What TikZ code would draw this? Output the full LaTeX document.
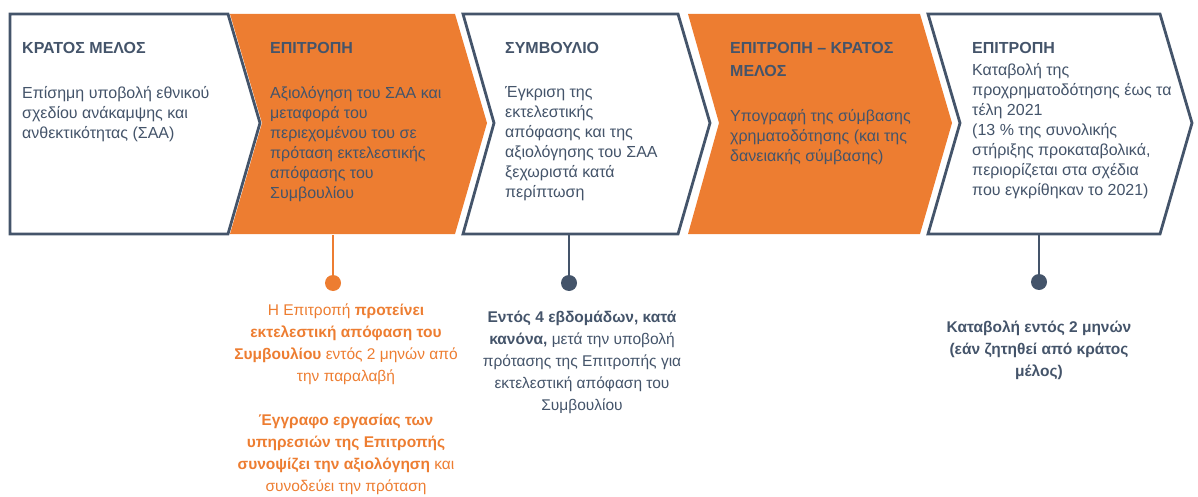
\documentclass[tikz,border=0pt]{standalone}
\usepackage{fontspec}
\setmainfont{Liberation Sans}
\usetikzlibrary{positioning}
\definecolor{slate}{HTML}{44546A}
\definecolor{accent}{HTML}{ED7D31}
\begin{document}
\begin{tikzpicture}
[x=1pt,y=-1pt,
  chevwhite/.style={draw=slate,line width=2.8pt,fill=white,line join=miter},%
  chevorange/.style={fill=accent},%
  headtext/.style={anchor=north west,align=left,inner sep=0pt,text=slate,
    font=\bfseries\fontsize{16}{23}\selectfont},%
  bodytext/.style={anchor=north west,align=left,inner sep=0pt,text=slate,
    font=\fontsize{16}{20}\selectfont},%
  notetext/.style={anchor=north,align=center,inner sep=0pt,
    font=\fontsize{15.5}{22}\selectfont},%
  dotdecorate/.style={shape=circle,inner sep=0pt,minimum size=16pt},%
  linedecorate/.style={-,line width=2.6pt}]
\useasboundingbox (0,0) rectangle (1198,497);
%% chevrons
\foreach \l/\r/\d/\kind in {10/228/0/chevwhite, 230/455/32/chevorange,
  463/678/31/chevwhite, 688/920/31/chevorange, 928/1160/32/chevwhite} {
  \path[\kind] (\l,14) -- (\r,14) -- (\r+32,123) -- (\r,234)
    -- (\l,234) -- (\l+\d,123) -- cycle;
}
%% headings and texts
\node (h1) at (22,42) [headtext] {ΚΡΑΤΟΣ ΜΕΛΟΣ};
\node (t1) [bodytext,below=33pt of h1.south west,anchor=north west]
  {Επίσημη υποβολή εθνικού\\σχεδίου ανάκαμψης και\\ανθεκτικότητας (ΣΑΑ)};
\node (h2) at (270,42) [headtext] {ΕΠΙΤΡΟΠΗ};
\node (t2) [bodytext,below=33pt of h2.south west,anchor=north west]
  {Αξιολόγηση του ΣΑΑ και\\μεταφορά του\\περιεχομένου του σε\\πρόταση εκτελεστικής\\απόφασης του\\Συμβουλίου};
\node (h3) at (505,42) [headtext] {ΣΥΜΒΟΥΛΙΟ};
\node (t3) [bodytext,below=33pt of h3.south west,anchor=north west]
  {Έγκριση της\\εκτελεστικής\\απόφασης και της\\αξιολόγησης του ΣΑΑ\\ξεχωριστά κατά\\περίπτωση};
\node (h4) at (730,42) [headtext] {ΕΠΙΤΡΟΠΗ – ΚΡΑΤΟΣ\\ΜΕΛΟΣ};
\node (t4) [bodytext,below=33pt of h4.south west,anchor=north west]
  {Υπογραφή της σύμβασης\\χρηματοδότησης (και της\\δανειακής σύμβασης)};
\node (h5) at (972,42) [headtext] {ΕΠΙΤΡΟΠΗ};
\node (t5) [bodytext,below=10pt of h5.south west,anchor=north west]
  {Καταβολή της\\προχρηματοδότησης έως τα\\τέλη 2021\\(13 \% της συνολικής\\στήριξης προκαταβολικά,\\περιορίζεται στα σχέδια\\που εγκρίθηκαν το 2021)};
%% connectors and dots
\coordinate (b2) at (333,235);
\coordinate (b3) at (569,234);
\coordinate (b5) at (1039,234);
\node (d2) at (333,283) [dotdecorate,fill=accent] {};
\node (d3) at (569,283) [dotdecorate,fill=slate] {};
\node (d5) at (1039,282) [dotdecorate,fill=slate] {};
\draw[linedecorate,accent] (b2) -- (d2);
\draw[linedecorate,slate] (b3) -- (d3);
\draw[linedecorate,slate] (b5) -- (d5);
%% notes under the chevrons
\node (n2) at (346,304) [notetext,text=accent]
  {Η Επιτροπή \textbf{προτείνει}\\\textbf{εκτελεστική απόφαση του}\\\textbf{Συμβουλίου} εντός 2 μηνών από\\την παραλαβή\\[22pt]
   \textbf{Έγγραφο εργασίας των}\\\textbf{υπηρεσιών της Επιτροπής}\\\textbf{συνοψίζει την αξιολόγηση} και\\συνοδεύει την πρόταση};
\node (n3) at (582,311) [notetext,text=slate]
  {\textbf{Εντός 4 εβδομάδων, κατά}\\\textbf{κανόνα,} μετά την υποβολή\\πρότασης της Επιτροπής για\\εκτελεστική απόφαση του\\Συμβουλίου};
\node (n5) at (1039,321) [notetext,text=slate,font=\bfseries\fontsize{15.5}{22}\selectfont]
  {Καταβολή εντός 2 μηνών\\(εάν ζητηθεί από κράτος\\μέλος)};
\end{tikzpicture}
\end{document}
